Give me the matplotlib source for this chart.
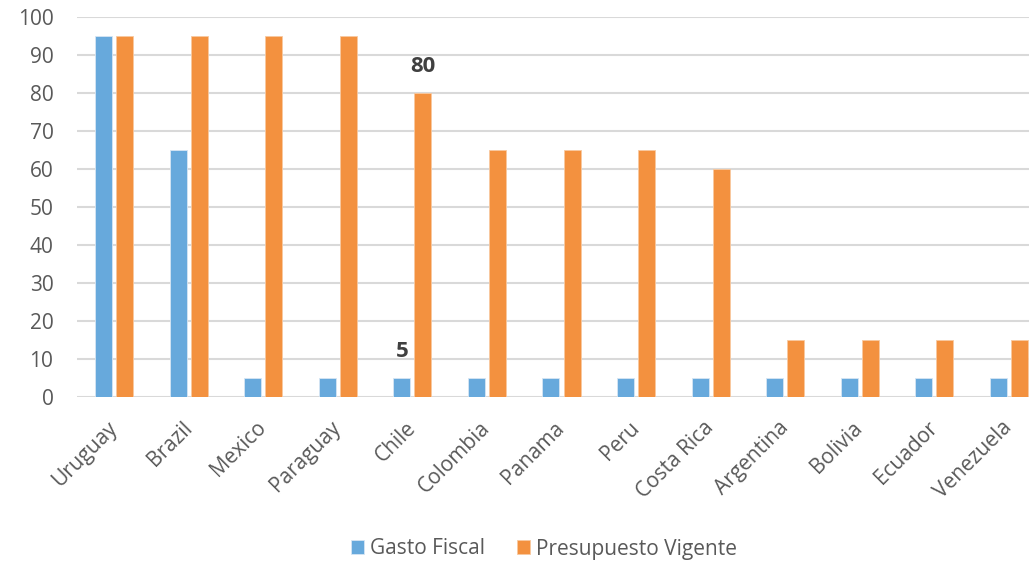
import matplotlib
matplotlib.use("Agg")
import matplotlib.pyplot as plt
import numpy as np

countries = ["Uruguay", "Brazil", "Mexico", "Paraguay", "Chile", "Colombia", "Panama",
             "Peru", "Costa Rica", "Argentina", "Bolivia", "Ecuador", "Venezuela"]
gasto_fiscal = [95, 65, 5, 5, 5, 5, 5, 5, 5, 5, 5, 5, 5]
presupuesto_vigente = [95, 95, 95, 95, 80, 65, 65, 65, 60, 15, 15, 15, 15]
yticks = list(range(0, 101, 10))

plt.rcParams['font.family'] = ['Open Sans', 'DejaVu Sans']

W, H = 1029, 564
fig = plt.figure(figsize=(W / 100, H / 100), dpi=100)
left, right = 77, 1046
top, bottom = 17, 397
ax = fig.add_axes([left / W, (H - bottom) / H, (right - left) / W, (bottom - top) / H])

blue = "#67A9DC"
orange = "#F3913F"
x = np.arange(len(countries))
bw = 0.228
off = 0.141
ax.bar(x - off, gasto_fiscal, bw, color=blue, edgecolor="#D6E6F4", linewidth=0.6,
       label="Gasto Fiscal", zorder=3)
ax.bar(x + off, presupuesto_vigente, bw, color=orange, edgecolor="#F8C9A0", linewidth=0.6,
       label="Presupuesto Vigente", zorder=3)

ax.set_xlim(-0.5, len(countries) - 0.5)
ax.set_ylim(0, 100)
ax.set_yticks(yticks)
ax.yaxis.grid(True, color="#D9D9D9", linewidth=1.5, zorder=0)
ax.set_axisbelow(True)
for s in ax.spines.values():
    s.set_visible(False)
ax.tick_params(axis="both", length=0, colors="#595959", labelsize=15)
ax.tick_params(axis="y", pad=17)
ax.set_xticks(x)
ax.set_xticklabels(countries, rotation=45, ha="right", va="center",
                   rotation_mode="anchor", color="#595959")
ax.tick_params(axis="x", pad=20)

ci = countries.index("Chile")
ax.annotate(str(presupuesto_vigente[ci]), (x[ci] + off, presupuesto_vigente[ci]),
            xytext=(0, 11.5), textcoords="offset points", ha="center", va="bottom",
            fontsize=16, fontweight="bold", color="#404040")
ax.annotate(str(gasto_fiscal[ci]), (x[ci] - off, gasto_fiscal[ci]),
            xytext=(0, 11.5), textcoords="offset points", ha="center", va="bottom",
            fontsize=16, fontweight="bold", color="#404040")

fig.legend(loc="center", bbox_to_anchor=(544 / W, 1 - 549 / H), ncol=2, frameon=False,
           fontsize=15, handlelength=0.65, handleheight=0.65, handletextpad=0.3,
           columnspacing=1.5, labelcolor="#595959")

fig.savefig("out.png", dpi=100)
